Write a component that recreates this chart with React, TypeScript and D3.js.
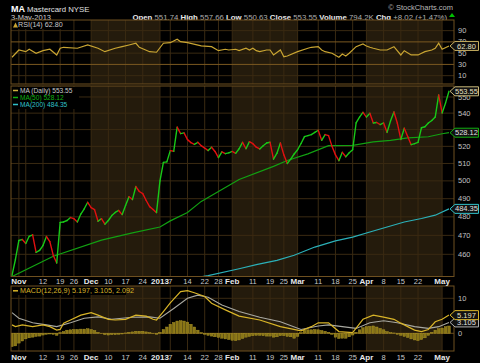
import React from 'react';
import * as d3 from 'd3';

// Daily closes, Oct 26 2012 .. May 3 2013 (128 trading days)
const closes = [
  449.1, 457.3, 467.3, 467.8, 465.7, 469.5, 470.3, 461.0, 462.0, 464.6,
  469.4, 466.7, 459.4, 455.5, 477.0, 477.2, 478.0, 479.6, 479.0, 477.2,
  481.5, 484.4, 488.0, 485.0, 483.9, 477.6, 479.0, 476.0, 478.0, 480.7,
  482.4, 483.5, 481.2, 486.2, 491.1, 489.5, 496.8, 494.0, 492.8, 489.0,
  485.6, 484.0, 482.3, 500.0, 510.6, 510.9, 517.5, 517.1, 531.5, 527.6,
  528.0, 524.0, 522.2, 521.2, 522.4, 520.4, 519.0, 517.5, 519.5, 517.0,
  513.4, 516.8, 515.7, 516.2, 517.0, 515.9, 518.6, 522.4, 518.6, 522.8,
  521.6, 519.5, 518.5, 520.4, 522.0, 522.4, 512.5, 516.0, 522.0, 515.0,
  510.0, 512.5, 515.5, 518.0, 521.7, 525.8, 526.4, 527.0, 528.3, 529.6,
  523.6, 527.0, 526.4, 520.0, 515.0, 511.6, 516.5, 513.9, 516.2, 518.0,
  534.0, 537.6, 540.5, 537.6, 539.9, 534.0, 534.3, 533.0, 534.0, 528.3,
  535.2, 540.7, 533.8, 524.1, 530.8, 525.8, 521.0, 521.6, 522.4, 531.1,
  531.7, 534.0, 535.5, 537.6, 551.3, 540.1, 546.3, 553.55,
];

const ma50Idx = [0, 12, 26, 35, 43, 46, 51, 55, 66, 76, 80, 86, 92, 99, 105, 110, 115, 121, 125, 127];
const ma50Val = [448.5, 459, 467.5, 471.3, 474.5, 477.8, 482.4, 488.5, 500.8, 508.3, 511.7, 515.6, 520.4, 520.6, 522.6, 523.6, 525, 525.7, 527.5, 528.12];

const ma200Idx = [52, 57, 66, 71, 77, 82, 88, 94, 99, 104, 109, 114, 119, 123, 127];
const ma200Val = [447.5, 449.0, 452.5, 454.6, 456.8, 459.5, 463.8, 467.1, 469.1, 471.8, 474.5, 477.2, 479.1, 480.9, 484.35];

const rsiIdx = [0, 2, 4, 5, 7, 9, 11, 13, 14, 15, 19, 22, 25, 27, 30, 32, 34, 36, 37, 40, 42, 44, 46, 48, 49, 51, 55, 58, 60, 62, 63, 65, 66, 68, 69, 70, 71, 72, 74, 75, 76, 78, 79, 80, 83, 86, 87, 89, 90, 91, 93, 95, 96, 97, 98, 100, 102, 103, 104, 105, 107, 109, 111, 113, 114, 116, 118, 120, 122, 123, 124, 125, 127];
const rsiVal = [42.7, 55.6, 52.6, 56.9, 49.8, 54.4, 56.9, 46.8, 58.7, 60.4, 58.7, 64.5, 58.7, 52.6, 58.7, 61.5, 64.5, 67.6, 60.4, 52.6, 51.6, 67.6, 68.6, 74.7, 70.4, 68.6, 62.8, 61.5, 54.4, 56.9, 55.6, 56.9, 54.4, 58.7, 55.6, 58.7, 54.4, 52.6, 55.6, 55.6, 46.8, 55.6, 43.7, 45.0, 52.6, 58.7, 60.4, 61.5, 55.6, 52.6, 49.8, 42.7, 48.5, 45.0, 49.8, 61.5, 66.3, 62.8, 60.4, 58.7, 55.6, 55.6, 61.5, 46.8, 54.4, 46.8, 46.8, 52.6, 55.6, 58.7, 67.6, 56.9, 62.8];

const macdIdx = [0, 1, 3, 6, 9, 11, 13, 14, 15, 17, 20, 23, 25, 28, 30, 33, 36, 39, 41, 42, 44, 46, 49, 51, 53, 56, 58, 62, 66, 72, 78, 84, 87, 89, 92, 95, 99, 102, 105, 108, 111, 113, 117, 119, 121, 123, 125, 127];
const macdVal = [2.4, 1.9, 2.4, 1.9, 2.4, 1.9, 0.9, 1.1, 2.9, 3.8, 5.2, 5.9, 5.2, 4.0, 3.8, 4.0, 5.2, 4.9, 4.0, 3.8, 6.2, 8.7, 11.9, 12.2, 11.6, 10.5, 8.6, 6.7, 4.9, 3.8, 1.9, 0.7, 1.9, 3.0, 3.0, 0.5, 0.2, 4.0, 5.2, 4.6, 4.0, 2.9, 0.9, 0.5, 1.1, 3.3, 4.0, 5.197];

const sigIdx = [0, 2, 6, 10, 13, 17, 21, 25, 29, 35, 40, 43, 47, 51, 54, 57, 61, 66, 72, 78, 84, 89, 92, 96, 100, 104, 108, 112, 117, 121, 124, 127];
const sigVal = [5.9, 4.3, 3.0, 2.4, 1.9, 3.0, 4.3, 4.7, 4.0, 4.6, 4.7, 4.3, 7.1, 10.0, 10.9, 10.3, 8.1, 6.2, 4.6, 3.3, 1.1, 2.1, 2.4, 1.9, 1.4, 3.0, 3.6, 3.0, 1.9, 1.4, 1.9, 3.105];

const hist = [
  -3.8, -3.6, -2.8, -2.2, -1.6, -1.3, -1.1, -0.9, -0.8, -0.5,
  -0.3, -0.2, -0.3, -0.6, 0.2, 0.5, 0.9, 1.0, 1.1, 1.1,
  1.2, 1.2, 1.3, 1.1, 0.8, 0.3, -0.1, -0.4, -0.5, -0.4,
  -0.4, -0.3, -0.2, 0.1, 0.3, 0.4, 0.6, 0.6, 0.6, 0.4,
  0.2, -0.1, -0.3, 0.3, 1.1, 1.8, 2.6, 3.1, 3.5, 3.6,
  3.5, 3.2, 2.6, 1.8, 0.9, 0.2, -0.3, -0.6, -0.8, -1.0,
  -1.2, -1.4, -1.6, -1.8, -2.0, -2.1, -1.9, -1.5, -1.1, -0.9,
  -0.7, -0.6, -0.6, -0.7, -0.8, -0.8, -1.1, -1.0, -0.7, -0.7,
  -0.9, -1.0, -1.4, -0.9, 0.2, 0.9, 1.0, 1.0, 1.1, 1.0,
  0.8, 0.6, 0.3, -0.3, -1.1, -1.5, -1.4, -1.4, -1.0, -0.5,
  0.3, 1.0, 1.6, 1.9, 2.0, 2.1, 1.8, 1.4, 1.0, 0.5,
  0.2, 0.1, -0.3, -0.6, -0.9, -1.2, -1.6, -1.9, -2.1, -1.8,
  -1.3, -0.6, 0.3, 0.9, 1.3, 1.5, 1.9, 2.09,
];

// x-axis: day index of each labelled week, and its label
const tickIdx = [2, 9, 14, 18, 23, 28, 33, 38, 43, 46, 51, 56, 60, 64, 70, 75, 79, 83, 89, 94, 99, 103, 108, 113, 118, 125];
const tickLab = ['Nov', '12', '19', '26', 'Dec', '10', '17', '24', '2013', '7', '14', '22', '28', 'Feb', '11', '19', '25', 'Mar', '11', '18', '25', 'Apr', '8', '15', '22', 'May'];
const extraGridIdx = [4];
// shaded months (Dec, Feb, Apr): start/end day index
const shadeStart = [23, 64, 103];
const shadeEnd = [43, 83, 125];

const priceTicks = [550, 540, 530, 520, 510, 500, 490, 480, 470, 460];
const priceLabels = [550, 540, 520, 510, 500, 490, 480, 470, 460];
const rsiTicks = [90, 70, 50, 30, 10];
const macdTicks = [10, 0];

const FONT = "'Liberation Sans', Arial, Helvetica, sans-serif";
const GRID = '#3a2a12';
const BORDER = '#6e5020';
const SHADE = '#241b0c';

function Tag({ y, text, stroke, color }: { y: number; text: string; stroke: string; color: string }) {
  return (
    <g>
      <path d={`M450,${y} L455,${y - 4.5} L478.5,${y - 4.5} L478.5,${y + 4.5} L455,${y + 4.5} Z`} fill="#111" stroke={stroke} strokeWidth={1} />
      <text x={466.5} y={y + 2.6} textAnchor="middle" fontSize={7.5} fill={color} fontFamily={FONT}>{text}</text>
    </g>
  );
}

export default function App() {
  const L = 11, R = 454;
  const x = d3.scaleLinear().domain([0, 127]).range([12, 449]);
  const panels = [
    { top: 20, bot: 84 },
    { top: 86, bot: 276.5 },
    { top: 286, bot: 351 },
  ];
  const yP = d3.scaleLog().domain([448.8, 556.9]).range([276, 86]);
  const yR = d3.scaleLinear().domain([0, 100]).range([81.3, 25]);
  const yM = d3.scaleLinear().domain([0, 10]).range([333.3, 298.3]);

  const ma50Line = d3.line<number>().x((d, i) => x(ma50Idx[i])).y((d) => yP(d))(ma50Val) || '';
  const ma200Line = d3.line<number>().x((d, i) => x(ma200Idx[i])).y((d) => yP(d))(ma200Val) || '';
  const rsiLine = d3.line<number>().x((d, i) => x(rsiIdx[i])).y((d) => yR(d))(rsiVal) || '';
  const macdLine = d3.line<number>().x((d, i) => x(macdIdx[i])).y((d) => yM(d))(macdVal) || '';
  const sigLine = d3.line<number>().x((d, i) => x(sigIdx[i])).y((d) => yM(d))(sigVal) || '';

  const gridIdx = [...tickIdx, ...extraGridIdx];

  const panelBg = (p: { top: number; bot: number }, k: number) => (
    <g key={'bg' + k}>
      <rect x={L} y={p.top} width={R - L} height={p.bot - p.top} fill="#000" />
      {shadeStart.map((s, i) => (
        <rect key={i} x={x(s)} y={p.top} width={x(shadeEnd[i]) - x(s)} height={p.bot - p.top} fill={SHADE} />
      ))}
      {gridIdx.map((g, i) => (
        <line key={'v' + i} x1={x(g)} x2={x(g)} y1={p.top} y2={p.bot} stroke={GRID} strokeWidth={1} />
      ))}
    </g>
  );

  const dateRow = (yc: number, key: string) => (
    <g key={key}>
      {tickIdx.map((t, i) => {
        const isMonth = isNaN(Number(tickLab[i])) || tickLab[i] === '2013';
        return (
          <text key={i} x={x(t)} y={yc + 2.7} textAnchor="middle" fontSize={isMonth ? 8 : 7.5}
            fontWeight={isMonth ? 'bold' : 'normal'} fill={isMonth ? '#e8e8e8' : '#c8c8c8'} fontFamily={FONT}>
            {tickLab[i]}
          </text>
        );
      })}
    </g>
  );

  return (
    <svg width={480} height={363} style={{ position: 'absolute', left: 0, top: 0, background: '#000' }} fontFamily={FONT}>
      <defs>
        <clipPath id="clipMain"><rect x={L} y={86} width={R - L} height={190.5} /></clipPath>
        <clipPath id="clipRsi"><rect x={L} y={20} width={R - L} height={64} /></clipPath>
        <clipPath id="clipMacd"><rect x={L} y={286} width={R - L} height={65} /></clipPath>
      </defs>
      <rect x={0} y={0} width={480} height={363} fill="#000" />

      {/* header */}
      <text x={11} y={12} fontSize={9} fontWeight="bold" fill="#fff">MA</text>
      <text x={27} y={12} fontSize={7.8} fill="#e0e0e0">Mastercard NYSE</text>
      <text x={11} y={19.5} fontSize={7.5} fill="#d0d0d0">3-May-2013</text>
      <text x={453} y={10} textAnchor="end" fontSize={7.5} fill="#b8b8b8">© StockCharts.com</text>
      <text x={447} y={19.5} textAnchor="end" fontSize={7.8} fill="#b0b0b0">
        <tspan fontWeight="bold" fill="#e8e8e8">Open</tspan> 551.74{' '}
        <tspan fontWeight="bold" fill="#e8e8e8">High</tspan> 557.66{' '}
        <tspan fontWeight="bold" fill="#e8e8e8">Low</tspan> 550.63{' '}
        <tspan fontWeight="bold" fill="#e8e8e8">Close</tspan> 553.55{' '}
        <tspan fontWeight="bold" fill="#e8e8e8">Volume</tspan> 794.2K{' '}
        <tspan fontWeight="bold" fill="#e8e8e8">Chg</tspan> +8.02 (+1.47%)
      </text>
      <path d="M449,17 L452,13 L455,17 Z" fill="#00c000" />

      {panels.map((p, k) => panelBg(p, k))}

      {/* RSI panel */}
      {rsiTicks.map((t) => (
        <line key={'rg' + t} x1={L} x2={R} y1={yR(t)} y2={yR(t)} stroke={t === 70 || t === 30 ? '#7a5820' : GRID} strokeWidth={1} />
      ))}
      <path d={rsiLine} fill="none" stroke="#c8a432" strokeWidth={1.2} clipPath="url(#clipRsi)" />
      {rsiTicks.map((t) => (
        <text key={'rl' + t} x={458} y={yR(t) + 2.6} fontSize={7.5} fill="#c0c0c0">{t}</text>
      ))}
      <rect x={L + 1} y={21} width={53} height={8} fill="#000" />
      <path d="M13,27.5 L15.5,22.5 L18,27.5 Z" fill="#c8a432" />
      <text x={18} y={27} fontSize={7.2} fill="#c8c8c8">RSI(14) 62.80</text>

      {/* main panel */}
      {priceTicks.map((t) => (
        <line key={'pg' + t} x1={L} x2={R} y1={yP(t)} y2={yP(t)} stroke={GRID} strokeWidth={1} />
      ))}
      <g clipPath="url(#clipMain)">
        <path d={ma200Line} fill="none" stroke="#2bb0b8" strokeWidth={1.2} />
        <path d={ma50Line} fill="none" stroke="#12a012" strokeWidth={1.2} />
        {closes.slice(1).map((c, i) => (
          <line key={'c' + i} x1={x(i)} y1={yP(closes[i])} x2={x(i + 1)} y2={yP(c)}
            stroke={c >= closes[i] ? '#18c818' : '#e01010'} strokeWidth={1.4} strokeLinecap="round" />
        ))}
      </g>
      {priceLabels.map((t) => (
        <text key={'pl' + t} x={458} y={yP(t) + 2.6} fontSize={7.5} fill="#c0c0c0">{t}</text>
      ))}
      <rect x={L + 1} y={87} width={67} height={22} fill="#000" />
      <line x1={13} x2={18} y1={90.5} y2={90.5} stroke="#d0b040" strokeWidth={1.5} />
      <text x={20} y={92.8} fontSize={6.6} fill="#c8c8c8">MA (Daily) 553.55</text>
      <line x1={13} x2={18} y1={97.5} y2={97.5} stroke="#10b010" strokeWidth={1.5} />
      <text x={20} y={99.8} fontSize={6.6} fill="#10b010">MA(50) 528.12</text>
      <line x1={13} x2={18} y1={104.5} y2={104.5} stroke="#30c0c8" strokeWidth={1.5} />
      <text x={20} y={106.8} fontSize={6.6} fill="#30c0c8">MA(200) 484.35</text>

      {/* MACD panel */}
      {macdTicks.map((t) => (
        <line key={'mg' + t} x1={L} x2={R} y1={yM(t)} y2={yM(t)} stroke={t === 0 ? '#6a4c1c' : GRID} strokeWidth={1} />
      ))}
      <g clipPath="url(#clipMacd)">
        {hist.map((h, i) => (
          <rect key={'h' + i} x={x(i) - 1.3} width={2.6} y={Math.min(yM(h), yM(0))} height={Math.abs(yM(h) - yM(0))}
            fill="#8a7616" stroke="#b09a2a" strokeWidth={0.4} />
        ))}
        <path d={sigLine} fill="none" stroke="#a8a8a0" strokeWidth={1.1} />
        <path d={macdLine} fill="none" stroke="#d8b428" strokeWidth={1.2} />
      </g>
      {macdTicks.map((t) => (
        <text key={'ml' + t} x={458} y={yM(t) + 2.6} fontSize={7.5} fill="#c0c0c0">{t}</text>
      ))}
      <rect x={L + 1} y={287} width={114} height={8} fill="#000" />
      <line x1={13} x2={18} y1={290.8} y2={290.8} stroke="#d8b428" strokeWidth={1.5} />
      <text x={20} y={293.4} fontSize={7.2} fill="#d8b428">MACD(12,26,9) 5.197, 3.105, 2.092</text>

      {/* borders */}
      {panels.map((p, k) => (
        <rect key={'b' + k} x={L} y={p.top} width={R - L} height={p.bot - p.top} fill="none" stroke={BORDER} strokeWidth={1} />
      ))}

      {dateRow(281, 'd1')}
      {dateRow(357, 'd2')}

      {/* value tags */}
      <Tag y={yR(62.8)} text="62.80" stroke="#c8b060" color="#e8e0c0" />
      <Tag y={yP(553.55)} text="553.55" stroke="#c8b878" color="#e8e0c0" />
      <Tag y={yP(528.12)} text="528.12" stroke="#10b010" color="#e0e0e0" />
      <Tag y={yP(484.35)} text="484.35" stroke="#30c0c8" color="#e0e0e0" />
      <Tag y={yM(3.105)} text="3.105" stroke="#b0b0b0" color="#e0e0e0" />
      <Tag y={yM(5.197)} text="5.197" stroke="#d8b428" color="#e8e0c0" />
    </svg>
  );
}
